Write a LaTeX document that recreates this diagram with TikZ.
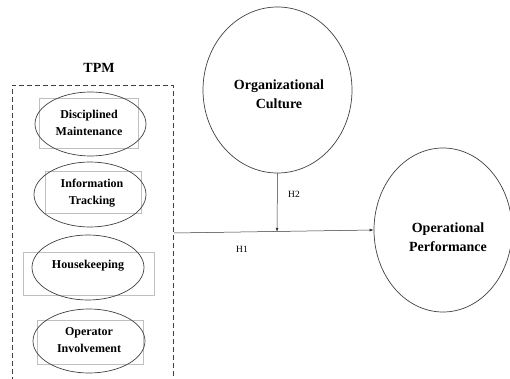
\documentclass[tikz,border=0pt]{standalone}
\usepackage{fontspec}
\setmainfont{Liberation Serif}
\usetikzlibrary{shapes.geometric,arrows.meta}
\begin{document}
\begin{tikzpicture}[x=1pt,y=-1pt,
  ell/.style={draw=black!75, line width=0.7pt, ellipse, inner sep=0pt},
  lbox/.style={draw=black!25, line width=0.5pt, inner sep=0pt},
  smalltxt/.style={font=\fontsize{12}{17}\selectfont\bfseries, align=center},
  bigtxt/.style={font=\fontsize{14}{19}\selectfont\bfseries, align=center},
  htxt/.style={font=\fontsize{9.5}{11}\selectfont},
  conn/.style={draw=black!80, line width=0.5pt, -{Latex[length=4pt,width=3pt]}}]
\useasboundingbox (0,0) rectangle (510,379);
\clip (0,0) rectangle (510,379);
% TPM dashed frame
\draw[dashed, dash pattern=on 5pt off 3pt, line width=0.6pt, black!75]
  (12,382) -- (12,85) -- (173,85) -- (173,382);
\node[font=\fontsize{14}{16}\selectfont\bfseries] (tpm) at (99,68) {TPM};
% light boxes
\node[lbox, minimum width=99pt, minimum height=50pt] (r1) at (88.5,123) {};
\node[lbox, minimum width=96pt, minimum height=42pt] (r2) at (93,192) {};
\node[lbox, minimum width=131pt, minimum height=43pt] (r3) at (88.5,273.5) {};
\node[lbox, minimum width=106pt, minimum height=44pt] (r4) at (90,342) {};
% ellipses
\node[ell, minimum width=111pt, minimum height=64pt] (e1) at (90.5,124) {};
\node[ell, minimum width=112pt, minimum height=65pt] (e2) at (90,194.5) {};
\node[ell, minimum width=112pt, minimum height=65pt] (e3) at (88,267.5) {};
\node[ell, minimum width=112pt, minimum height=64pt] (e4) at (89,341) {};
\node[smalltxt] (t1) at (89,123) {Disciplined\\Maintenance};
\node[smalltxt] (t2) at (92,193) {Information\\Tracking};
\node[smalltxt] (t3) at (88,266) {Housekeeping};
\node[smalltxt] (t4) at (89,340) {Operator\\Involvement};
% big circles
\node[ell, minimum width=149pt, minimum height=166pt] (oc) at (277.5,90) {};
\node[bigtxt] (oct) at (279,94) {Organizational\\Culture};
\node[ell, minimum width=138pt, minimum height=164pt] (op) at (443,230) {};
\node[bigtxt] (opt) at (448,237) {Operational\\Performance};
% connectors
\coordinate (h1s) at (174,233);
\coordinate (h2e) at (277,231.8);
\draw[conn] (h1s) -- (op.west);
\draw[conn] (oc.south) -- (h2e);
\node[htxt] (h2) at (294,194) {H2};
\node[htxt] (h1) at (242,249) {H1};
\end{tikzpicture}
\end{document}
